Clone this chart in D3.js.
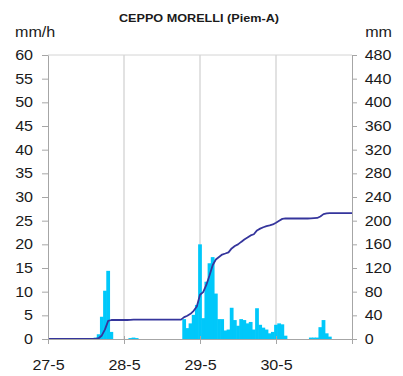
<!DOCTYPE html>
<html>
<head>
<meta charset="utf-8">
<script src="https://cdn.jsdelivr.net/npm/d3@7/dist/d3.min.js"></script>
<style>
  html, body { margin: 0; padding: 0; background: #fff; }
  svg { display: block; }
  text { font-family: "Liberation Sans", Arial, sans-serif; fill: #1a1a1a; }
</style>
</head>
<body>
<svg id="chart" width="403" height="376"></svg>
<script>
// Station title and axis units
const title = "CEPPO MORELLI (Piem-A)";
const leftUnit = "mm/h";
const rightUnit = "mm";

// Day labels placed every 24 hours from 27-5 00:00
const dayLabels = ["27-5", "28-5", "29-5", "30-5"];
const leftTicks = [0, 5, 10, 15, 20, 25, 30, 35, 40, 45, 50, 55, 60];
const rightTicks = [0, 40, 80, 120, 160, 200, 240, 280, 320, 360, 400, 440, 480];

// Hourly rainfall intensity (mm/h), one row per day
const rain27 = [0, 0, 0, 0, 0, 0, 0, 0, 0, 0, 0, 0, 0, 0, 0, 0.3, 1.0, 4.7, 10.2, 14.4, 1.5, 0, 0, 0];
const rain28 = [0, 0, 0.2, 0.3, 0.2, 0, 0, 0, 0, 0, 0, 0, 0, 0, 0, 0, 0, 0, 0, 4.2, 2.3, 3.3, 5.1, 7.2];
const rain29 = [20.0, 4.4, 12.1, 16.0, 17.3, 9.6, 4.2, 4.2, 1.8, 2.0, 6.6, 4.0, 2.8, 4.2, 4.0, 3.3, 3.6, 2.0, 6.5, 3.0, 2.4, 2.0, 1.2, 1.5];
const rain30 = [3.0, 3.3, 3.1, 0.7, 0, 0, 0, 0, 0, 0, 0, 0.3, 0.3, 0.3, 2.5, 4.0, 1.2, 0.5, 0, 0, 0, 0, 0, 0];
const rain31 = [0];

const hourly = [...rain27, ...rain28, ...rain29, ...rain30, ...rain31];
let running = 0;
const series = hourly.map((v, i) => {
  running += v;
  return { hour: i, rain: v, total: running };
});

const svg = d3.select("#chart");
const plot = { left: 48, right: 352, top: 55, bottom: 339 };
const stretch = 1.15;

const x = d3.scaleLinear().domain([0, 96]).range([plot.left, plot.right]);
const yRain = d3.scaleLinear().domain([0, 60]).range([plot.bottom, plot.top]);
const yTotal = d3.scaleLinear().domain([0, 480]).range([plot.bottom, plot.top]);

// Plot frame: top edge and daily vertical gridlines
svg.append("line")
  .attr("x1", plot.left).attr("x2", plot.right)
  .attr("y1", plot.top).attr("y2", plot.top)
  .attr("stroke", "#d4d4d4").attr("stroke-width", 1);

svg.append("g").selectAll("line")
  .data([24, 48, 72])
  .join("line")
  .attr("x1", d => x(d)).attr("x2", d => x(d))
  .attr("y1", plot.top).attr("y2", plot.bottom)
  .attr("stroke", "#d6d6d6").attr("stroke-width", 1.4);

// Hourly bars, centred on their hour, drawn edge to edge
const bandW = x(1) - x(0);
svg.append("g").selectAll("rect")
  .data(series.filter(d => d.rain > 0))
  .join("rect")
  .attr("x", d => x(d.hour) - bandW / 2 - 0.3)
  .attr("width", bandW + 0.6)
  .attr("y", d => yRain(d.rain))
  .attr("height", d => yRain(0) - yRain(d.rain))
  .attr("fill", "#00c8fa");

// Cumulative rainfall line
svg.append("path")
  .datum(series)
  .attr("fill", "none")
  .attr("stroke", "#35359c")
  .attr("stroke-width", 1.8)
  .attr("stroke-linejoin", "round")
  .attr("d", d3.line().x(d => x(d.hour)).y(d => yTotal(d.total)));

function styleAxis(g) {
  g.selectAll(".domain").attr("stroke", "#a6a6a6");
  g.selectAll(".tick line").attr("stroke", "#a6a6a6");
  g.selectAll(".tick text")
    .attr("fill", "#1a1a1a")
    .style("font-family", "'Liberation Sans', Arial, sans-serif")
    .style("font-size", "14px");
}

// Left axis: intensity
const gLeft = svg.append("g")
  .attr("transform", `translate(${plot.left},0)`)
  .call(d3.axisLeft(yRain).tickValues(leftTicks).tickSize(6).tickPadding(7).tickSizeOuter(0));
styleAxis(gLeft);
gLeft.selectAll(".tick text").attr("transform", `scale(${stretch},1)`);

// Right axis: cumulative total
const gRight = svg.append("g")
  .attr("transform", `translate(${plot.right},0)`)
  .call(d3.axisRight(yTotal).tickValues(rightTicks).tickSize(5).tickPadding(6).tickSizeOuter(0));
styleAxis(gRight);
gRight.selectAll(".tick text").attr("transform", `scale(${stretch},1)`);

// Bottom axis: days
const gBottom = svg.append("g")
  .attr("transform", `translate(0,${plot.bottom})`)
  .call(d3.axisBottom(x).tickValues([0, 24, 48, 72, 96])
    .tickFormat(d => dayLabels[d / 24] || "")
    .tickSize(5).tickPadding(16).tickSizeOuter(0));
styleAxis(gBottom);
gBottom.selectAll(".tick line").attr("y1", -3);
gBottom.selectAll(".tick text").attr("transform", `scale(${stretch},1)`);

// Title and unit labels
function stretchedText(tx, ty, str, size, weight, anchor) {
  svg.append("text")
    .attr("transform", `translate(${tx},${ty}) scale(${stretch},1)`)
    .attr("text-anchor", anchor)
    .style("font-size", size + "px")
    .style("font-weight", weight)
    .text(str);
}
stretchedText(199, 22, title, 11, "bold", "middle");
stretchedText(15, 37, leftUnit, 14, "normal", "start");
stretchedText(392, 37, rightUnit, 14, "normal", "end");
</script>
</body>
</html>
